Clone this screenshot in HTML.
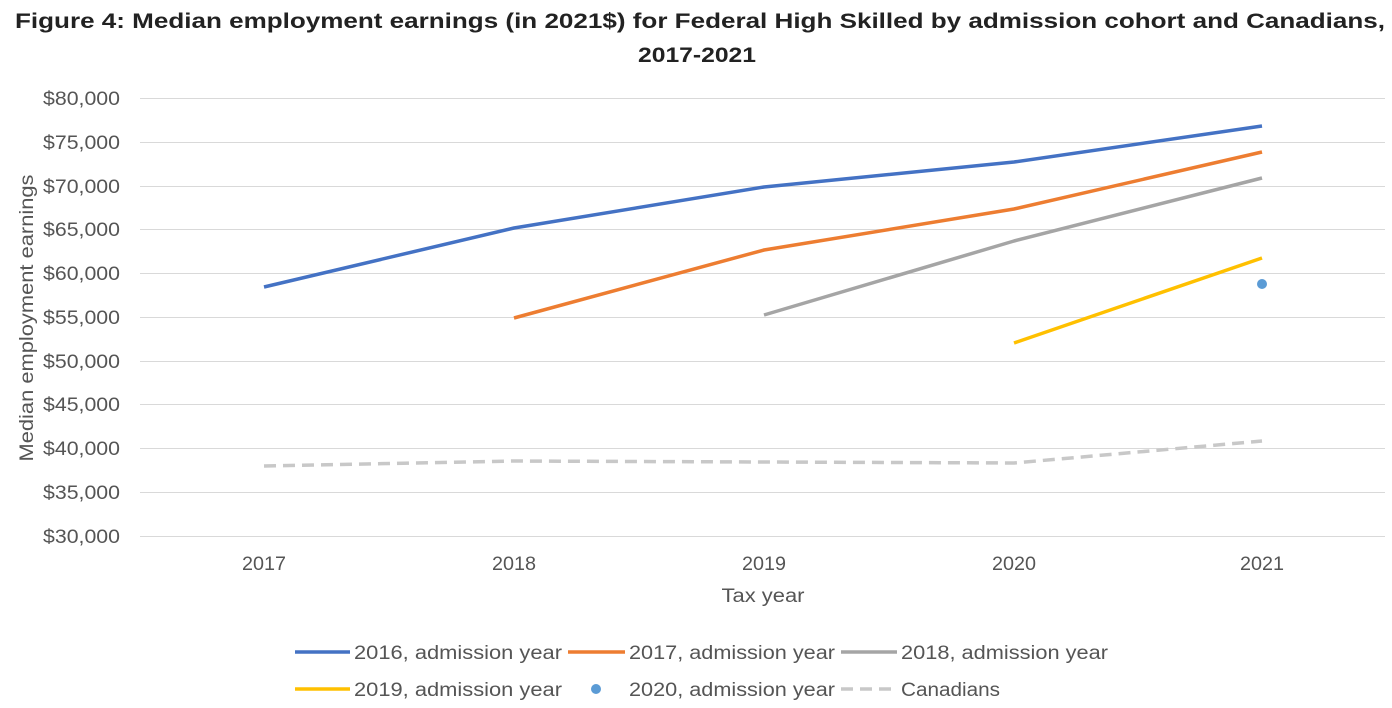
<!DOCTYPE html>
<html><head><meta charset="utf-8"><style>
html,body{margin:0;padding:0;background:#fff;width:1392px;height:708px;overflow:hidden}
svg text{font-family:"Liberation Sans","DejaVu Sans",sans-serif}
</style></head><body>
<svg width="1392" height="708" xmlns="http://www.w3.org/2000/svg">
<text x="700" y="28" text-anchor="middle" font-size="21" font-weight="bold" fill="#222" textLength="1370" lengthAdjust="spacingAndGlyphs">Figure 4: Median employment earnings (in 2021$) for Federal High Skilled by admission cohort and Canadians,</text>
<text x="697" y="62" text-anchor="middle" font-size="21" font-weight="bold" fill="#222" textLength="118" lengthAdjust="spacingAndGlyphs">2017-2021</text>
<g stroke="#d9d9d9" stroke-width="1">
<line x1="140" x2="1385" y1="98.5" y2="98.5"/><line x1="140" x2="1385" y1="142.5" y2="142.5"/>
<line x1="140" x2="1385" y1="186.5" y2="186.5"/><line x1="140" x2="1385" y1="229.5" y2="229.5"/>
<line x1="140" x2="1385" y1="273.5" y2="273.5"/><line x1="140" x2="1385" y1="317.5" y2="317.5"/>
<line x1="140" x2="1385" y1="361.5" y2="361.5"/><line x1="140" x2="1385" y1="404.5" y2="404.5"/>
<line x1="140" x2="1385" y1="448.5" y2="448.5"/><line x1="140" x2="1385" y1="492.5" y2="492.5"/>
<line x1="140" x2="1385" y1="536.5" y2="536.5"/>
</g>
<g font-size="19" fill="#555" text-anchor="end">
<text x="120" y="105" textLength="77" lengthAdjust="spacingAndGlyphs">$80,000</text><text x="120" y="149" textLength="77" lengthAdjust="spacingAndGlyphs">$75,000</text><text x="120" y="193" textLength="77" lengthAdjust="spacingAndGlyphs">$70,000</text>
<text x="120" y="236" textLength="77" lengthAdjust="spacingAndGlyphs">$65,000</text><text x="120" y="280" textLength="77" lengthAdjust="spacingAndGlyphs">$60,000</text><text x="120" y="324" textLength="77" lengthAdjust="spacingAndGlyphs">$55,000</text>
<text x="120" y="368" textLength="77" lengthAdjust="spacingAndGlyphs">$50,000</text><text x="120" y="411" textLength="77" lengthAdjust="spacingAndGlyphs">$45,000</text><text x="120" y="455" textLength="77" lengthAdjust="spacingAndGlyphs">$40,000</text>
<text x="120" y="499" textLength="77" lengthAdjust="spacingAndGlyphs">$35,000</text><text x="120" y="543" textLength="77" lengthAdjust="spacingAndGlyphs">$30,000</text>
</g>
<g font-size="19" fill="#555" text-anchor="middle">
<text x="264" y="570" textLength="44" lengthAdjust="spacingAndGlyphs">2017</text><text x="514" y="570" textLength="44" lengthAdjust="spacingAndGlyphs">2018</text><text x="764" y="570" textLength="44" lengthAdjust="spacingAndGlyphs">2019</text>
<text x="1014" y="570" textLength="44" lengthAdjust="spacingAndGlyphs">2020</text><text x="1262" y="570" textLength="44" lengthAdjust="spacingAndGlyphs">2021</text>
<text x="763" y="602" textLength="83" lengthAdjust="spacingAndGlyphs">Tax year</text>
</g>
<text transform="translate(33,318) rotate(-90)" font-size="19" fill="#555" text-anchor="middle" textLength="287" lengthAdjust="spacingAndGlyphs">Median employment earnings</text>
<g fill="none" stroke-width="3.5" stroke-linejoin="round">
<polyline stroke="#4472c4" points="264,287 514,228 764,187 1014,162 1262,126"/>
<polyline stroke="#ed7d31" points="514,318 764,250 1014,209 1262,152"/>
<polyline stroke="#a5a5a5" points="764,315 1014,241 1262,178"/>
<polyline stroke="#ffc000" points="1014,343 1262,258"/>
<polyline stroke="#c8c8c8" stroke-dasharray="12,7" points="264,466 514,461 764,462 1014,463 1262,441"/>
</g>
<circle cx="1262" cy="284" r="5" fill="#5b9bd5"/>
<g font-size="19" fill="#555">
<line x1="295" x2="350" y1="652" y2="652" stroke="#4472c4" stroke-width="3.5"/><text x="354" y="659" textLength="208" lengthAdjust="spacingAndGlyphs">2016, admission year</text>
<line x1="568" x2="625" y1="652" y2="652" stroke="#ed7d31" stroke-width="3.5"/><text x="629" y="659" textLength="206" lengthAdjust="spacingAndGlyphs">2017, admission year</text>
<line x1="841" x2="897" y1="652" y2="652" stroke="#a5a5a5" stroke-width="3.5"/><text x="901" y="659" textLength="207" lengthAdjust="spacingAndGlyphs">2018, admission year</text>
<line x1="295" x2="350" y1="689" y2="689" stroke="#ffc000" stroke-width="3.5"/><text x="354" y="696" textLength="208" lengthAdjust="spacingAndGlyphs">2019, admission year</text>
<circle cx="596" cy="689" r="5" fill="#5b9bd5"/><text x="629" y="696" textLength="206" lengthAdjust="spacingAndGlyphs">2020, admission year</text>
<line x1="841" x2="897" y1="689" y2="689" stroke="#c8c8c8" stroke-width="3.5" stroke-dasharray="12,7"/><text x="901" y="696" textLength="99" lengthAdjust="spacingAndGlyphs">Canadians</text>
</g>
</svg>
</body></html>
